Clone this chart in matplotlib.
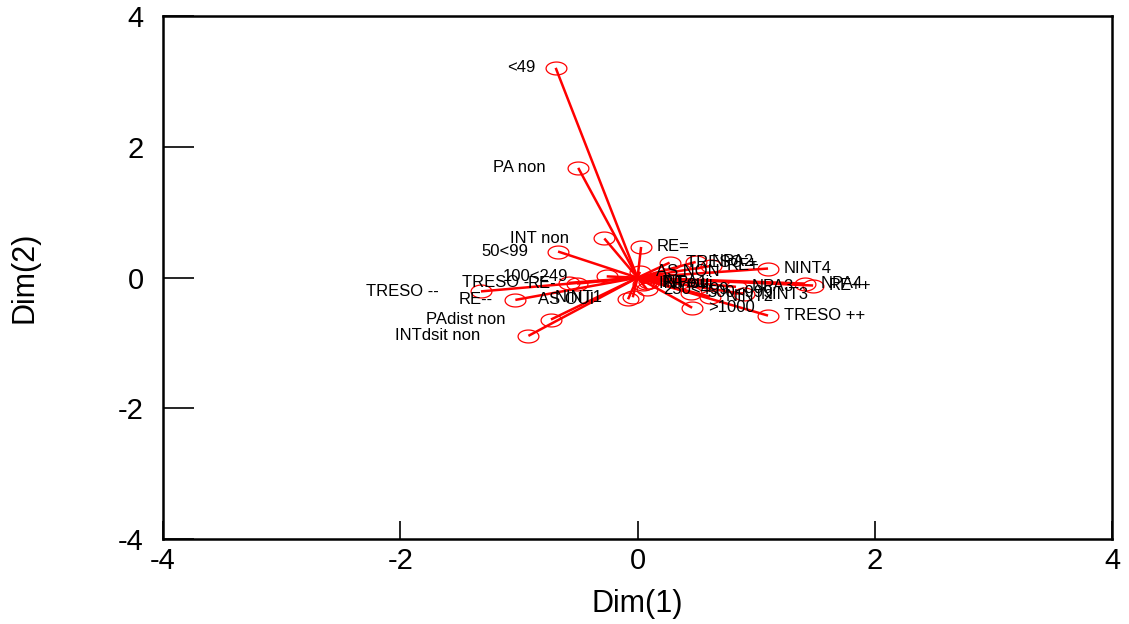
import numpy as np
import matplotlib
matplotlib.use("Agg")
import matplotlib.pyplot as plt
from matplotlib.path import Path

plt.rcParams['font.family'] = ['Liberation Sans', 'DejaVu Sans']

# Category labels and coordinates (Dim 1, Dim 2)
labels = ["<49", "PA non", "INT non", "50<99", "100<249", "TRESO -", "RE-",
          "TRESO --", "RE--", "PAdist non", "INTdsit non", "AS OUI", "NINT1",
          "RE=", "AS NON", "TRESO +", "NPA2", "RE+", "NINT4", "PA oui",
          "INT oui", "NPA1", "250<499", "500<999", "NINT2", "NINT3", "NPA3",
          "NPA4", "RE++", ">1000", "TRESO ++"]
dim1 = [-0.69, -0.50, -0.28, -0.67, -0.26, -0.58, -0.51,
        -1.32, -1.03, -0.73, -0.92, -0.08, -0.04,
        0.03, 0.02, 0.27, 0.49, 0.62, 1.10, 0.07,
        0.05, 0.10, 0.08, 0.45, 0.61, 0.90, 0.83,
        1.41, 1.48, 0.46, 1.10]
dim2 = [3.21, 1.68, 0.60, 0.40, 0.02, -0.08, -0.09,
        -0.21, -0.34, -0.64, -0.89, -0.33, -0.30,
        0.47, 0.09, 0.23, 0.24, 0.18, 0.14, -0.08,
        -0.09, -0.07, -0.18, -0.23, -0.29, -0.25, -0.14,
        -0.09, -0.12, -0.46, -0.58]
ticks = [-4, -2, 0, 2, 4]

fig = plt.figure(figsize=(11.29, 6.24), dpi=100)
ax = fig.add_axes([0.1444, 0.136, 0.8406, 0.838])

t = np.linspace(0, 2 * np.pi, 60)
ell = Path(np.column_stack([np.cos(t), 0.62 * np.sin(t)]))

for x, y in zip(dim1, dim2):
    ax.plot([0, x], [0, y], color='red', lw=1.8, solid_capstyle='butt', zorder=2)
ax.plot(dim1, dim2, linestyle='none', marker=ell, markersize=15,
        markerfacecolor='none', markeredgecolor='red', markeredgewidth=0.9, zorder=3)

anns = []
for lab, x, y in zip(labels, dim1, dim2):
    if x < 0:
        a = ax.annotate(lab, (x, y), xytext=(-6, 0), textcoords='offset pixels',
                        ha='right', va='center', fontsize=12, color='black', zorder=4)
        anns.append(a)
    else:
        ax.annotate(lab, (x, y), xytext=(16, 0), textcoords='offset pixels',
                    ha='left', va='center', fontsize=12, color='black', zorder=4)

ax.set_xlim(-4, 4)
ax.set_ylim(-4, 4)
ax.set_xticks(ticks)
ax.set_yticks(ticks)
ax.set_xticklabels([str(v) for v in ticks])
ax.set_yticklabels([str(v) for v in ticks])
ax.tick_params(axis='y', direction='in', length=22, width=1.2, labelsize=21, pad=14)
ax.tick_params(axis='x', direction='in', length=13, width=1.2, labelsize=21, pad=6)
for s in ax.spines.values():
    s.set_linewidth(1.8)
ax.set_xlabel("Dim(1)", fontsize=22, labelpad=10)
ax.set_ylabel("Dim(2)", fontsize=22, labelpad=56)

fig.canvas.draw()
r = fig.canvas.get_renderer()
for a in anns:
    w = a.get_window_extent(r).width
    a.xyann = (-(6 + w / 2), 0)

fig.savefig("out.png", dpi=100)
